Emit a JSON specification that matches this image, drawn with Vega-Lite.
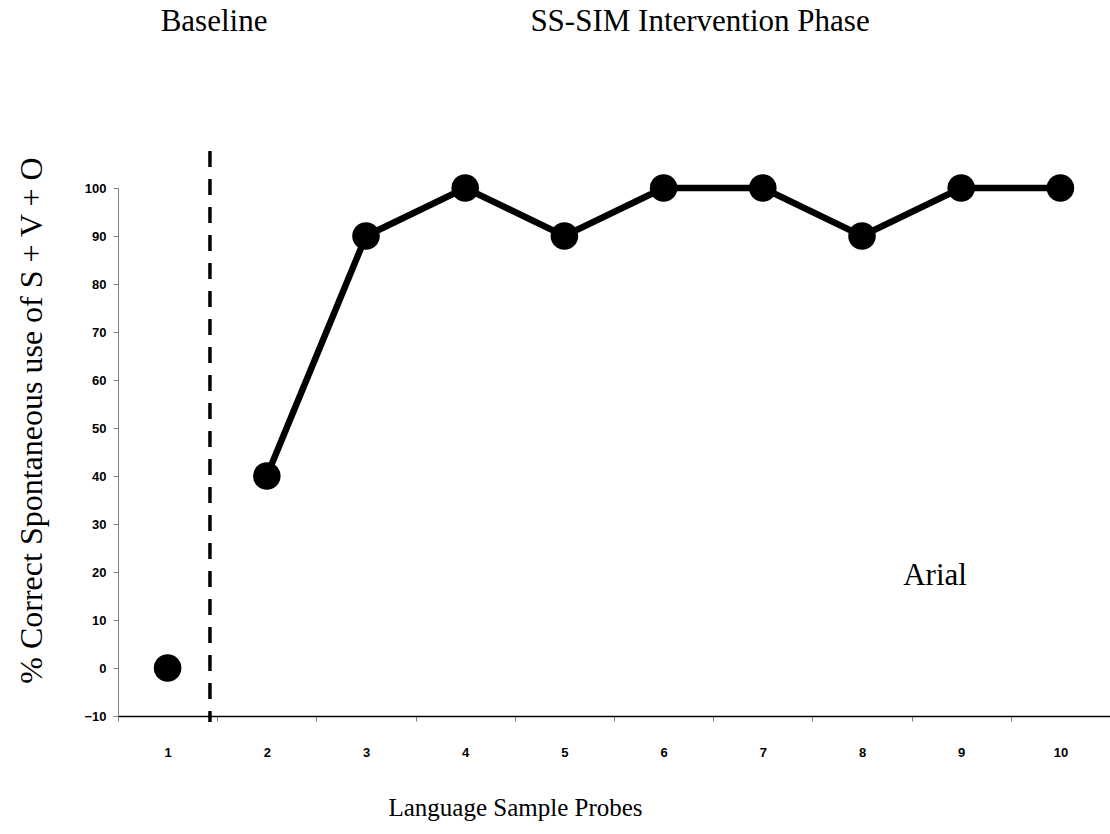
{
  "$schema": "https://vega.github.io/schema/vega-lite/v6.json",
  "width": 992,
  "height": 528,
  "autosize": {"type": "none"},
  "padding": {"left": 118, "top": 188, "right": 0, "bottom": 118},
  "background": "white",
  "config": {"view": {"stroke": null}},
  "datasets": {
    "probes": [
      {"probe": "1", "pct": 0, "phase": "Baseline"},
      {"probe": "2", "pct": 40, "phase": "Intervention"},
      {"probe": "3", "pct": 90, "phase": "Intervention"},
      {"probe": "4", "pct": 100, "phase": "Intervention"},
      {"probe": "5", "pct": 90, "phase": "Intervention"},
      {"probe": "6", "pct": 100, "phase": "Intervention"},
      {"probe": "7", "pct": 100, "phase": "Intervention"},
      {"probe": "8", "pct": 90, "phase": "Intervention"},
      {"probe": "9", "pct": 100, "phase": "Intervention"},
      {"probe": "10", "pct": 100, "phase": "Intervention"}
    ],
    "phaseline": [{"pos": 1.427, "top": 107.7, "bottom": -11.25}],
    "notes": [
      {"pos": 1.468, "val": 134.6, "label": "Baseline"},
      {"pos": 6.367, "val": 134.6, "label": "SS-SIM Intervention Phase"},
      {"pos": 8.736, "val": 19.2, "label": "Arial"}
    ]
  },
  "layer": [
    {
      "data": {"name": "probes"},
      "layer": [
        {
          "mark": {"type": "line", "color": "black", "strokeWidth": 6.5},
          "encoding": {
            "detail": {"field": "phase"}
          }
        },
        {
          "mark": {"type": "point", "filled": true, "color": "black", "size": 760, "opacity": 1}
        }
      ],
      "encoding": {
        "x": {
          "field": "probe",
          "type": "ordinal",
          "sort": null,
          "scale": {"type": "band", "paddingInner": 0, "paddingOuter": 0},
          "axis": {
            "title": "Language Sample Probes",
            "titleFont": "Liberation Serif",
            "titleFontSize": 25,
            "titleFontWeight": "normal",
            "titleColor": "black",
            "titleAnchor": null,
            "titleAlign": "center",
            "titleBaseline": "alphabetic",
            "titleX": 397,
            "titleY": 99,
            "labelAngle": 0,
            "labelFont": "Liberation Sans",
            "labelFontWeight": "bold",
            "labelFontSize": 13,
            "labelColor": "black",
            "labelBaseline": "top",
            "labelPadding": 25,
            "tickBand": "extent",
            "tickSize": 5,
            "tickColor": "#808080",
            "domainColor": "black",
            "domainWidth": 1.5,
            "grid": false
          }
        },
        "y": {
          "field": "pct",
          "type": "quantitative",
          "scale": {"domain": [-10, 100], "nice": false, "zero": false},
          "axis": {
            "values": [-10, 0, 10, 20, 30, 40, 50, 60, 70, 80, 90, 100],
            "title": "% Correct Spontaneous use of S + V + O",
            "titleFont": "Liberation Serif",
            "titleFontSize": 32,
            "titleFontWeight": "normal",
            "titleColor": "black",
            "titleAnchor": null,
            "titleAlign": "center",
            "titleBaseline": "alphabetic",
            "titleAngle": -90,
            "titleX": -77,
            "titleY": 232,
            "labelFont": "Liberation Sans",
            "labelFontWeight": "bold",
            "labelFontSize": 13,
            "labelColor": "black",
            "labelPadding": 7,
            "tickSize": 5,
            "tickColor": "#808080",
            "domainColor": "#808080",
            "grid": false
          }
        }
      }
    },
    {
      "data": {"name": "phaseline"},
      "mark": {"type": "rule", "color": "black", "strokeWidth": 3.5, "strokeDash": [16, 12]},
      "encoding": {
        "x": {"field": "pos", "type": "quantitative", "scale": {"domain": [0.5, 10.5], "nice": false, "zero": false}, "axis": null},
        "y": {"field": "top", "type": "quantitative"},
        "y2": {"field": "bottom"}
      }
    },
    {
      "data": {"name": "notes"},
      "mark": {"type": "text", "font": "Liberation Serif", "fontSize": 31, "color": "black", "baseline": "middle", "align": "center"},
      "encoding": {
        "x": {"field": "pos", "type": "quantitative", "scale": {"domain": [0.5, 10.5], "nice": false, "zero": false}, "axis": null},
        "y": {"field": "val", "type": "quantitative"},
        "text": {"field": "label"}
      }
    }
  ],
  "resolve": {"scale": {"x": "independent"}}
}
